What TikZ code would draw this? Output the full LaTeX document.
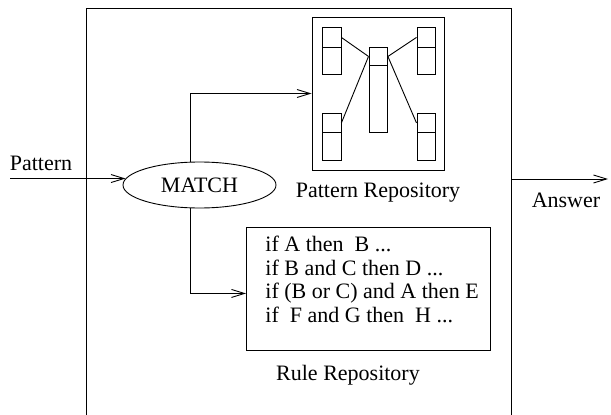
\documentclass[tikz,border=0pt]{standalone}
\usepackage{fontspec}
\setmainfont{Liberation Serif}
\usetikzlibrary{arrows.meta,calc,shapes.geometric}
\begin{document}
\begin{tikzpicture}[x=1pt,y=-1pt,
  line width=0.9pt,
  every node/.style={font=\fontsize{22}{23.5}\selectfont},
  arr/.style={-{Straight Barb[length=13pt,width=8pt,line width=0.9pt]}},
  cell/.style={draw, inner sep=0pt, minimum width=18.5pt, anchor=north west},
  lbl/.style={inner sep=0pt, anchor=base},
]
\useasboundingbox (0,0) rectangle (611,415);
% outer system box
\draw (86,415) -- (86,8) -- (511,8) -- (511,415);

% MATCH
\node[draw, ellipse, minimum width=153pt, minimum height=46pt, inner sep=0pt] (match) at (199.5,185) {MATCH};

% pattern repository
\node[draw, minimum width=132pt, minimum height=153pt, inner sep=0pt] (prepo) at (378,93.5) {};
\node[cell, minimum height=20pt] (tlh) at (322,27) {};
\node[cell, minimum height=27pt] (tlb) at (322,47) {};
\node[cell, minimum height=20pt] (trh) at (416.5,27) {};
\node[cell, minimum height=27pt] (trb) at (416.5,47) {};
\node[cell, minimum height=18pt] (ch) at (368.5,47) {};
\node[cell, minimum height=67pt] (cb) at (368.5,65) {};
\node[cell, minimum height=19pt] (blh) at (322,113) {};
\node[cell, minimum height=28pt] (blb) at (322,132) {};
\node[cell, minimum height=19pt] (brh) at (416.5,113) {};
\node[cell, minimum height=28pt] (brb) at (416.5,132) {};
\draw (tlh.east) -- (ch.west);
\draw (trh.west) -- (ch.east);
\draw (blh.east) -- (ch.west);
\draw (brh.west) -- (ch.east);

% rule repository
\node[draw, minimum width=244pt, minimum height=123pt, inner sep=0pt, anchor=north west] (rules) at (246,227) {};
\node[anchor=north west, align=left, inner sep=0pt] (rtext) at (265,236)
  {if A then\ \ B ...\\ if B and C then D ...\\ if (B or C) and A then E\\ if\ \ F and G then\ \ H ...};

% labels
\node[lbl] (plabel) at (41,170) {Pattern};
\node[lbl] (prlabel) at (378,197) {Pattern Repository};
\node[lbl] (alabel) at (566,207) {Answer};
\node[lbl] (rrlabel) at (348,380) {Rule Repository};

% connectors
\coordinate (pin0) at (10,0);
\coordinate (bx) at (190,0);
\coordinate (aout) at (511,179);
\coordinate (aend) at (608,179);
\draw[arr] (match.175 -| pin0) -- (match.175);
\draw[arr] (match.north -| bx) |- (prepo.west);
\draw[arr] (match.south -| bx) |- ($(rules.west)+(0,4.5)$);
\draw[arr] (aout) -- (aend);
\end{tikzpicture}
\end{document}
